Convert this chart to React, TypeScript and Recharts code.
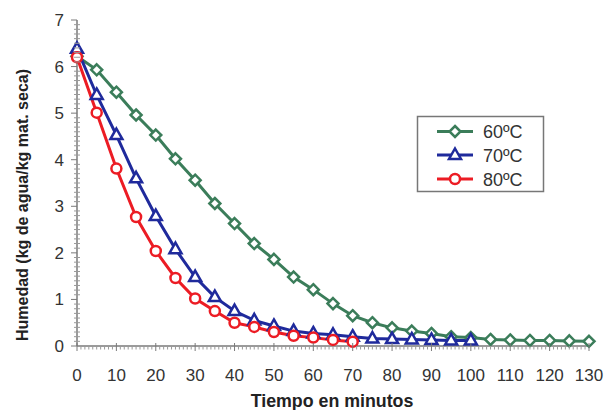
import React from "react";
import { LineChart, Line, XAxis, YAxis, Customized } from "recharts";

const times = [0, 5, 10, 15, 20, 25, 30, 35, 40, 45, 50, 55, 60, 65, 70, 75, 80, 85, 90, 95, 100, 105, 110, 115, 120, 125, 130];
const s60 = [6.22, 5.93, 5.45, 4.96, 4.53, 4.02, 3.56, 3.06, 2.63, 2.2, 1.86, 1.48, 1.21, 0.91, 0.65, 0.5, 0.39, 0.32, 0.27, 0.2, 0.18, 0.14, 0.13, 0.12, 0.12, 0.11, 0.1];
const s70 = [6.38, 5.39, 4.53, 3.6, 2.79, 2.08, 1.48, 1.05, 0.75, 0.55, 0.43, 0.32, 0.27, 0.24, 0.2, 0.16, 0.15, 0.14, 0.13, 0.12, 0.12];
const s80 = [6.2, 5.01, 3.81, 2.77, 2.04, 1.46, 1.02, 0.75, 0.5, 0.41, 0.3, 0.22, 0.18, 0.13, 0.09];
const seriesNames = ["60ºC", "70ºC", "80ºC"];
const xTitle = "Tiempo en minutos";
const yTitle = "Humedad (kg de agua/kg mat. seca)";
const xMinorTicks = Array.from({ length: 131 }, (_, i) => i);
const yMinorTicks = Array.from({ length: 71 }, (_, i) => i / 10);

const data = times.map((t, i) => ({ t, a: s60[i], b: s70[i], c: s80[i] }));

const GREEN = "#3b7d5a";
const BLUE = "#1f2a9c";
const RED = "#ec1c24";
const AXIS = "#7a7a7a";
const TICK = "#999999";
const FONT = "'Liberation Sans', Arial, sans-serif";

const Diamond = ({ cx, cy }: any) =>
  cx == null || cy == null ? null : (
    <path d={`M${cx},${cy - 5.5} L${cx + 5.5},${cy} L${cx},${cy + 5.5} L${cx - 5.5},${cy} Z`} fill="#fff" stroke={GREEN} strokeWidth={2.5} />
  );
const Tri = ({ cx, cy }: any) =>
  cx == null || cy == null ? null : (
    <path d={`M${cx},${cy - 6.5} L${cx + 6},${cy + 4} L${cx - 6},${cy + 4} Z`} fill="#fff" stroke={BLUE} strokeWidth={2.5} />
  );
const Circ = ({ cx, cy }: any) =>
  cx == null || cy == null ? null : <circle cx={cx} cy={cy} r={5} fill="#fff" stroke={RED} strokeWidth={2.5} />;

const XTick = (props: any) => {
  const { x, y, payload } = props;
  const v = Math.round(payload.value);
  const major = v % 10 === 0;
  return (
    <g>
      <path d={`M${x},${major ? y - 3 : y} L${x},${major ? y + 5 : y + 3.5}`} style={{ stroke: major ? AXIS : TICK, strokeWidth: 1, fill: "none" }} />
      {major && (
        <text x={x} y={y + 35} textAnchor="middle" fontSize={17} fill="#333" fontFamily={FONT}>
          {v}
        </text>
      )}
    </g>
  );
};

const YTick = (props: any) => {
  const { x, y, payload } = props;
  const v = payload.value;
  const major = Math.abs(v - Math.round(v)) < 1e-6;
  return (
    <g>
      <path d={`M${major ? x - 6 : x - 3},${y} L${major ? x : x + 3},${y}`} style={{ stroke: major ? AXIS : TICK, strokeWidth: 1, fill: "none" }} />
      {major && (
        <text x={x - 13} y={y + 6} textAnchor="end" fontSize={17} fill="#333" fontFamily={FONT}>
          {Math.round(v)}
        </text>
      )}
    </g>
  );
};

const Titles = () => (
  <g fontFamily={FONT} fontWeight="bold" fill="#222">
    <text x={332} y={407} textAnchor="middle" fontSize={17.8}>
      {xTitle}
    </text>
    <text transform="translate(28,205) rotate(-90)" textAnchor="middle" fontSize={16}>
      {yTitle}
    </text>
  </g>
);

const LegendBox = () => {
  const rows = [
    { name: seriesNames[0], color: GREEN, M: Diamond, y: 131.5 },
    { name: seriesNames[1], color: BLUE, M: Tri, y: 155 },
    { name: seriesNames[2], color: RED, M: Circ, y: 179 },
  ];
  return (
    <g>
      <rect x={417.5} y={116.5} width={126} height={75} fill="#fff" stroke="#777" strokeWidth={1.5} />
      {rows.map((r) => (
        <g key={r.name}>
          <line x1={437} x2={473} y1={r.y} y2={r.y} stroke={r.color} strokeWidth={3} />
          <r.M cx={455} cy={r.y} />
          <text x={483} y={r.y + 6.5} fontSize={18} fill="#333" fontFamily={FONT}>
            {r.name}
          </text>
        </g>
      ))}
    </g>
  );
};

export default function App() {
  return (
    <div style={{ position: "fixed", left: 0, top: 0, width: 605, height: 410, background: "#fff" }}>
      <LineChart width={605} height={410} data={data} margin={{ top: 20, right: 16, left: 0, bottom: 0 }}>
        <XAxis
          dataKey="t"
          type="number"
          domain={[0, 130]}
          ticks={xMinorTicks}
          interval={0}
          tickSize={0}
          tickMargin={0}
          tickLine={false}
          tick={XTick}
          height={64}
          axisLine={{ stroke: AXIS, strokeWidth: 1.5 }}
        />
        <YAxis
          type="number"
          domain={[0, 7]}
          ticks={yMinorTicks}
          interval={0}
          tickSize={0}
          tickMargin={0}
          tickLine={false}
          tick={YTick}
          width={77}
          axisLine={{ stroke: AXIS, strokeWidth: 1.5 }}
        />
        <Line dataKey="a" stroke={GREEN} strokeWidth={3} dot={<Diamond />} isAnimationActive={false} />
        <Line dataKey="b" stroke={BLUE} strokeWidth={3} dot={<Tri />} isAnimationActive={false} />
        <Line dataKey="c" stroke={RED} strokeWidth={3} dot={<Circ />} isAnimationActive={false} />
        <Customized component={Titles} />
        <Customized component={LegendBox} />
      </LineChart>
    </div>
  );
}
